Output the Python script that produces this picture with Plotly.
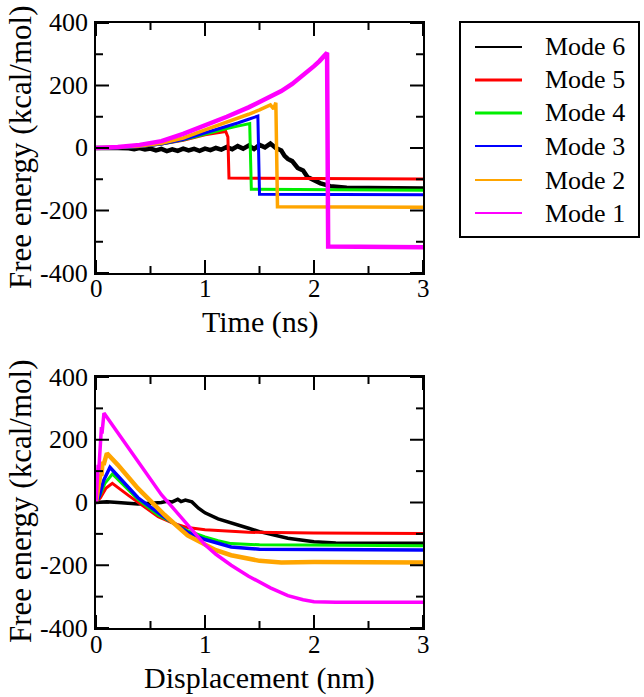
import plotly.graph_objects as go

# ---------------- data: top panel (Free energy vs Time) ----------------
modes = ["Mode 6", "Mode 5", "Mode 4", "Mode 3", "Mode 2", "Mode 1"]
colors = ["#000000", "#ff0000", "#00ee00", "#0000ff", "#ffa500", "#ff00ff"]

t6 = [0, 0.1, 0.2, 0.3, 0.35, 0.4, 0.45, 0.5, 0.55, 0.6, 0.65, 0.7, 0.75, 0.8, 0.85, 0.9, 0.95, 1.0,
      1.05, 1.1, 1.15, 1.2, 1.25, 1.3, 1.35, 1.4, 1.45, 1.5, 1.55, 1.6, 1.65,
      1.7, 1.73, 1.76, 1.8, 1.85, 1.9, 1.94, 2.0, 2.06, 2.15, 2.3, 2.5, 2.7, 3.0]
e6 = [0, 1, 0, -1, -4, 0, -5, -2, -8, -3, -10, -4, -9, -2, -8, -3, -9, -2,
      -7, 0, -5, 3, -4, 6, -2, 8, -3, 10, 2, 14, 0,
      -8, -25, -35, -42, -64, -72, -93, -103, -113, -122, -127, -128, -130, -130]

t5 = [0, 0.2, 0.4, 0.6, 0.8, 1.0, 1.1, 1.19, 1.21, 1.22, 1.5, 2.0, 2.5, 3.0]
e5 = [0, 1, 5, 13, 25, 42, 48, 53, 35, -96, -97, -97, -98, -99]

t4 = [0, 0.2, 0.4, 0.6, 0.8, 1.0, 1.2, 1.3, 1.41, 1.425, 2.0, 2.5, 3.0]
e4 = [0, 1, 5, 13, 26, 45, 62, 70, 78, -132, -133, -134, -135]

t3 = [0, 0.2, 0.4, 0.6, 0.8, 1.0, 1.2, 1.3, 1.4, 1.485, 1.5, 2.0, 2.5, 3.0]
e3 = [0, 1, 5, 13, 27, 48, 68, 80, 92, 102, -148, -149, -150, -150]

t2 = [0, 0.2, 0.4, 0.6, 0.8, 1.0, 1.2, 1.4, 1.5, 1.6, 1.63, 1.65, 1.665, 2.0, 2.5, 3.0]
e2 = [0, 2, 6, 15, 32, 58, 82, 108, 122, 138, 125, 145, -188, -189, -190, -190]

t1 = [0, 0.2, 0.4, 0.6, 0.8, 1.0, 1.2, 1.4, 1.5, 1.6, 1.7, 1.8, 1.9, 2.0, 2.05, 2.1, 2.12, 2.13, 2.5, 3.0]
e1 = [0, 3, 10, 22, 45, 72, 100, 130, 148, 165, 182, 205, 232, 262, 278, 295, 305, -315, -317, -318]

# ---------------- data: bottom panel (Free energy vs Displacement) ----------------
d6 = [0, 0.1, 0.2, 0.3, 0.385, 0.5, 0.6, 0.65, 0.7, 0.75, 0.78, 0.82, 0.88, 0.94, 1.0, 1.12, 1.24, 1.4,
      1.5, 1.76, 2.0, 2.2, 2.5, 3.0]
f6 = [0, 2, 0, -3, -5, -2, 0, 4, 2, 10, 3, 8, 2, -18, -33, -52, -64, -82,
      -93, -114, -125, -129, -130, -130]

d5 = [0, 0.04, 0.09, 0.15, 0.3, 0.446, 0.57, 0.7, 0.84, 1.0, 1.12, 1.4, 2.0, 3.0]
f5 = [0, 15, 45, 61, 22, -13, -45, -65, -80, -87, -90, -95, -97, -99]

d4 = [0, 0.04, 0.08, 0.15, 0.385, 0.57, 0.84, 1.0, 1.12, 1.24, 1.5, 2.0, 3.0]
f4 = [0, 25, 60, 91, 10, -40, -90, -110, -122, -131, -135, -136, -138]

d3 = [0, 0.03, 0.07, 0.128, 0.385, 0.6, 0.84, 1.0, 1.12, 1.24, 1.5, 2.0, 3.0]
f3 = [0, 20, 70, 112, 15, -40, -95, -118, -130, -142, -149, -150, -151]

d2 = [0, 0.02, 0.03, 0.04, 0.05, 0.06, 0.07, 0.1, 0.2, 0.385, 0.5, 0.63, 0.84, 1.0, 1.1, 1.24, 1.4, 1.5,
      1.7, 2.0, 3.0]
f2 = [0, 40, 70, 90, 85, 130, 120, 157, 120, 45, 5, -40, -105, -135, -152, -168, -180, -186,
      -191, -190, -191]

d1 = [0, 0.01, 0.02, 0.025, 0.035, 0.04, 0.05, 0.055, 0.073, 0.2, 0.4, 0.5, 0.6, 0.7, 0.8, 0.9, 1.0, 1.1,
      1.24, 1.4, 1.5, 1.6, 1.76, 1.9, 2.0, 2.2, 3.0]
f1 = [0, 60, 120, 100, 180, 160, 240, 220, 285, 222, 122, 72, 25, -15, -55, -98, -135, -165,
      -200, -235, -255, -272, -297, -310, -316, -318, -318]

# axis tick values (major labelled ticks and minor unlabelled ticks) and titles
y_ticks = [-400, -200, 0, 200, 400]
y_minor = [-300, -100, 100, 300]
x_ticks = [0, 1, 2, 3]
x_minor = [0.5, 1.5, 2.5]
x_titles = ["Time (ns)", "Displacement (nm)"]
y_title = "Free energy (kcal/mol)"

top_series = [(t6, e6), (t5, e5), (t4, e4), (t3, e3), (t2, e2), (t1, e1)]
bot_series = [(d6, f6), (d5, f5), (d4, f4), (d3, f3), (d2, f2), (d1, f1)]
top_widths = [4.5, 3, 3, 3, 3.5, 4.5]
bot_widths = [3.5, 3, 3, 3.5, 4.5, 3.5]
legend_widths = [2, 3, 3, 2, 2, 2]

FONT = "Liberation Serif"
W, H = 644, 697

fig = go.Figure()
for i, (xs, ys) in enumerate(top_series):
    fig.add_trace(go.Scatter(x=xs, y=ys, mode="lines", name=modes[i], showlegend=False,
                             line=dict(color=colors[i], width=top_widths[i]),
                             xaxis="x", yaxis="y"))
for i, (xs, ys) in enumerate(bot_series):
    fig.add_trace(go.Scatter(x=xs, y=ys, mode="lines", name=modes[i], showlegend=False,
                             line=dict(color=colors[i], width=bot_widths[i]),
                             xaxis="x2", yaxis="y2"))


def px(x):
    return x / W


def py(y):
    return 1 - y / H


def axis(**kw):
    return dict(showline=True, linecolor="black", linewidth=2, mirror=True,
                ticks="", showticklabels=False, showgrid=False, zeroline=False,
                automargin=False, **kw)


xdom = [px(96), px(423)]
ydom_top = [py(273), py(23)]
ydom_bot = [py(628), py(377)]
fig.update_layout(
    width=W, height=H,
    margin=dict(l=0, r=0, t=0, b=0, autoexpand=False),
    paper_bgcolor="white", plot_bgcolor="white",
    showlegend=False,
    font=dict(family=FONT, color="black"),
    xaxis=axis(domain=xdom, range=[0, 3], anchor="y"),
    yaxis=axis(domain=ydom_top, range=[-400, 400], anchor="x"),
    xaxis2=axis(domain=xdom, range=[0, 3], anchor="y2"),
    yaxis2=axis(domain=ydom_bot, range=[-400, 400], anchor="x2"),
)

# inside ticks on all four sides (Grace style), placed through the axes' own scales
MAJOR, MINOR = 13, 7
panel_w = 327.0
panel_h = 250.0
shapes = []
annotations = []
panels = [("x", "y", 289, 322, 148, x_titles[0]), ("x2", "y2", 644, 678, 502, x_titles[1])]
for xa, ya, xlab_y, xtitle_y, ycenter, xtitle in panels:
    for vals, ln in ((x_ticks, MAJOR), (x_minor, MINOR)):
        for v in vals:
            for y0, y1 in ((0, ln / panel_h), (1, 1 - ln / panel_h)):
                shapes.append(dict(type="line", xref=xa, yref=ya + " domain", x0=v, x1=v, y0=y0, y1=y1,
                                   line=dict(color="black", width=2)))
    for vals, ln in ((y_ticks, MAJOR), (y_minor, MINOR)):
        for v in vals:
            for x0, x1 in ((0, ln / panel_w), (1, 1 - ln / panel_w)):
                shapes.append(dict(type="line", xref=xa + " domain", yref=ya, x0=x0, x1=x1, y0=v, y1=v,
                                   line=dict(color="black", width=2)))
    # tick labels
    for v in x_ticks:
        annotations.append(dict(xref=xa, yref="paper", x=v, y=py(xlab_y), text=str(v), showarrow=False,
                                xanchor="center", yanchor="middle",
                                font=dict(family=FONT, size=25, color="black")))
    for v in y_ticks:
        annotations.append(dict(xref="paper", yref=ya, x=px(90), y=v, text=str(v), showarrow=False,
                                xanchor="right", yanchor="middle",
                                font=dict(family=FONT, size=26, color="black")))
    # axis titles
    annotations.append(dict(xref=xa + " domain", yref="paper", x=0.5, y=py(xtitle_y),
                            text=xtitle, showarrow=False, xanchor="center", yanchor="middle",
                            font=dict(family=FONT, size=30, color="black")))
    annotations.append(dict(xref="paper", yref="paper", x=px(20), y=py(ycenter), text=y_title,
                            textangle=-90, showarrow=False, xanchor="center", yanchor="middle",
                            font=dict(family=FONT, size=31, color="black")))

# legend box drawn manually (Grace-style)
shapes.append(dict(type="rect", xref="paper", yref="paper", x0=px(460), x1=px(639), y0=py(237), y1=py(22),
                   line=dict(color="black", width=2), fillcolor="rgba(0,0,0,0)"))
row_y = [47, 80, 113, 146, 180, 213]
for i, m in enumerate(modes):
    shapes.append(dict(type="line", xref="paper", yref="paper", x0=px(475), x1=px(522),
                       y0=py(row_y[i]), y1=py(row_y[i]),
                       line=dict(color=colors[i], width=legend_widths[i])))
    annotations.append(dict(xref="paper", yref="paper", x=px(543), y=py(row_y[i]), text=m,
                            showarrow=False, xanchor="left", yanchor="middle",
                            font=dict(family=FONT, size=26, color="black")))
fig.update_layout(shapes=shapes, annotations=annotations)

fig.write_html("out.html")
